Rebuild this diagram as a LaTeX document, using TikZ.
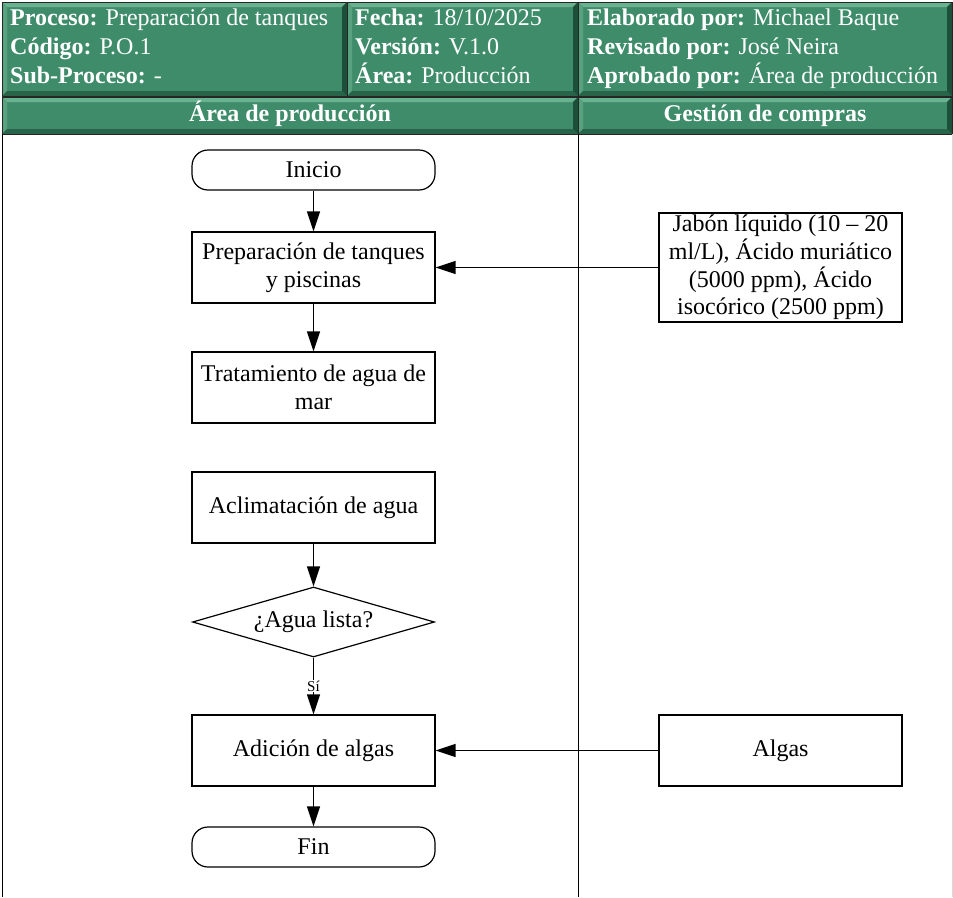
\documentclass[tikz,border=0pt]{standalone}
\usepackage{fontspec}
\setmainfont{Liberation Serif}
\usetikzlibrary{arrows.meta,shapes.geometric}
\definecolor{hdr}{RGB}{63,140,107}
\definecolor{hdrtop}{RGB}{104,178,144}
\definecolor{hdrleft}{RGB}{88,162,128}
\definecolor{hdrbot}{RGB}{40,100,74}
\definecolor{hdrright}{RGB}{28,80,58}
\newcommand\bevcell[4]{%
  \fill[hdr] (#1,#2) rectangle (#3,#4);
  \fill[hdrtop] (#1,#2) -- (#3,#2) -- (#3-5,#2+5) -- (#1+5,#2+5) -- cycle;
  \fill[hdrleft] (#1,#2) -- (#1+5,#2+5) -- (#1+5,#4-5) -- (#1,#4) -- cycle;
  \fill[hdrbot] (#1,#4) -- (#1+5,#4-5) -- (#3-5,#4-5) -- (#3,#4) -- cycle;
  \fill[hdrright] (#3,#2) -- (#3,#4) -- (#3-5,#4-5) -- (#3-5,#2+5) -- cycle;
  \draw[black!85,line width=1pt] (#1,#2) rectangle (#3,#4);}
\tikzset{
  every node/.style={font=\fontsize{24}{27.6}\selectfont},
  htext/.style={text=white,anchor=base west,inner sep=0pt},
  ltext/.style={text=white,anchor=base,inner sep=0pt,font=\fontsize{24}{27.6}\selectfont\bfseries},
  proc/.style={draw,line width=1.2pt,minimum width=243pt,minimum height=71pt,inner sep=2pt,align=center},
  term/.style={draw,line width=1.2pt,minimum width=243pt,minimum height=40pt,rounded corners=16pt,inner sep=0pt},
  decis/.style={draw,diamond,line width=1.2pt,minimum width=242pt,minimum height=70pt,inner sep=0pt,aspect=3.46},
  flow/.style={line width=1.3pt,-{Triangle[length=20pt,width=13pt]}},
  lane/.style={line width=1.2pt}
}
\begin{document}
\begin{tikzpicture}[x=1pt,y=-1pt]
\useasboundingbox (0,0) rectangle (953,897);
% header
\bevcell{2}{2}{347}{96}
\bevcell{347}{2}{578}{96}
\bevcell{578}{2}{952}{96}
\bevcell{2}{97}{578}{134}
\bevcell{578}{97}{952}{134}
\node[htext] (h1) at (10,25) {\textbf{Proceso:} Preparación de tanques};
\node[htext] (h2) at (10,54) {\textbf{Código:} P.O.1};
\node[htext] (h3) at (10,83) {\textbf{Sub-Proceso:} -};
\node[htext] (h4) at (355,25) {\textbf{Fecha:} 18/10/2025};
\node[htext] (h5) at (355,54) {\textbf{Versión:} V.1.0};
\node[htext] (h6) at (355,83) {\textbf{Área:} Producción};
\node[htext] (h7) at (587,25) {\textbf{Elaborado por:} Michael Baque};
\node[htext] (h8) at (587,54) {\textbf{Revisado por:} José Neira};
\node[htext] (h9) at (587,83) {\textbf{Aprobado por:} Área de producción};
\node[ltext] (l1) at (290,121) {Área de producción};
\node[ltext] (l2) at (765,121) {Gestión de compras};
% lanes
\draw[lane] (2.5,134) -- (2.5,897);
\draw[lane] (578.5,134) -- (578.5,897);
\draw[black!15,line width=1pt] (952.5,134) -- (952.5,897);
% nodes
\node[term] (ini) at (313.5,170) {Inicio};
\node[proc] (prep) at (313.5,267.5) {Preparación de tanques\\y piscinas};
\node[proc] (trat) at (313.5,387.5) {Tratamiento de agua de\\mar};
\node[proc] (acli) at (313.5,507.5) {Aclimatación de agua};
\node[decis] (dec) at (313.5,622) {¿Agua lista?};
\node[proc] (adi) at (313.5,750.5) {Adición de algas};
\node[term] (fin) at (313.5,847) {Fin};
\node[proc,minimum height=109pt] (jab) at (780.5,267.5) {Jabón líquido (10 – 20\\ml/L), Ácido muriático\\(5000 ppm), Ácido\\isocórico (2500 ppm)};
\node[proc] (alg) at (780.5,750.5) {Algas};
% connectors
\draw[flow] (ini) -- (prep);
\draw[flow] (prep) -- (trat);
\draw[flow] (acli) -- (dec);
\draw[flow] (dec) -- node[fill=white,inner sep=1pt,pos=0.5,font=\fontsize{15}{17}\selectfont] (si) {Sí} (adi);
\draw[flow] (adi) -- (fin);
\draw[flow] (jab) -- (prep);
\draw[flow] (alg) -- (adi);
\end{tikzpicture}
\end{document}
